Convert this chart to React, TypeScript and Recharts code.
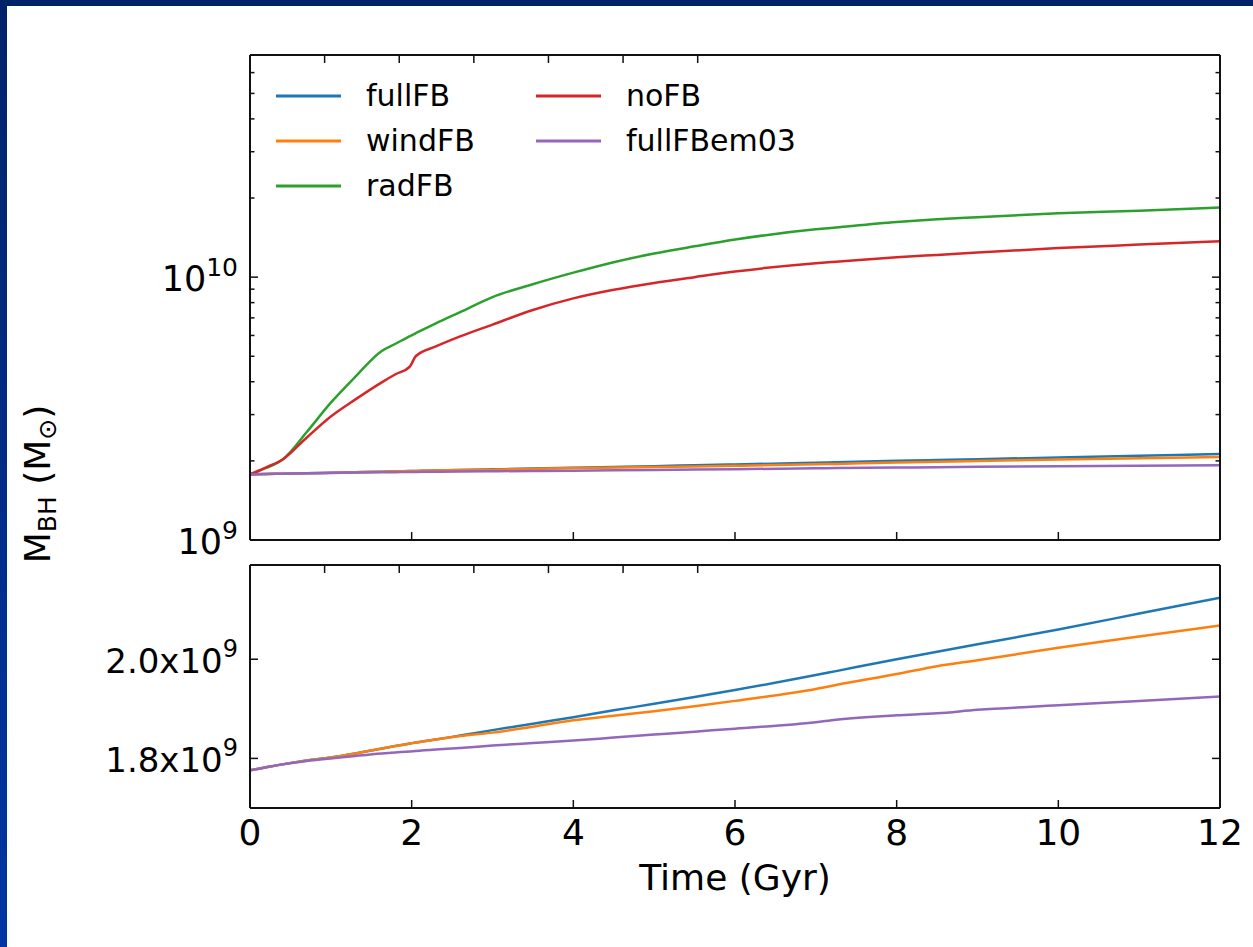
import React from "react";
import { LineChart, Line, XAxis, YAxis, Legend } from "recharts";

const FONT = "'DejaVu Sans', sans-serif";

// time in Gyr
const TIME = [0, 0.2, 0.4, 0.7, 1.0, 1.3, 1.63, 1.8, 1.98, 2.05, 2.3, 2.6, 3, 3.5, 4, 4.5, 5, 5.5, 6, 7, 7.25, 8, 8.5, 9, 10, 11, 12];

// black hole mass in solar masses
const FULL_FB = [1.776e9, 1.782e9, 1.788e9, 1.796e9, 1.802e9, 1.81e9, 1.82e9, 1.825e9, 1.83e9, 1.832e9, 1.838e9, 1.846e9, 1.857e9, 1.87e9, 1.883e9, 1.897e9, 1.91e9, 1.924e9, 1.938e9, 1.968e9, 1.976e9, 2.0e9, 2.015e9, 2.03e9, 2.06e9, 2.092e9, 2.124e9];
const WIND_FB = [1.776e9, 1.782e9, 1.788e9, 1.796e9, 1.802e9, 1.81e9, 1.82e9, 1.825e9, 1.83e9, 1.832e9, 1.838e9, 1.845e9, 1.852e9, 1.864e9, 1.877e9, 1.886e9, 1.895e9, 1.905e9, 1.916e9, 1.94e9, 1.948e9, 1.97e9, 1.986e9, 1.998e9, 2.023e9, 2.046e9, 2.068e9];
const RAD_FB = [1.776e9, 1.88e9, 2.02e9, 2.57e9, 3.33e9, 4.17e9, 5.24e9, 5.58e9, 5.97e9, 6.12e9, 6.67e9, 7.36e9, 8.4e9, 9.4e9, 1.04e10, 1.14e10, 1.23e10, 1.31e10, 1.39e10, 1.52e10, 1.545e10, 1.62e10, 1.66e10, 1.69e10, 1.75e10, 1.79e10, 1.84e10];
const NO_FB = [1.776e9, 1.89e9, 2.02e9, 2.45e9, 2.95e9, 3.42e9, 3.98e9, 4.27e9, 4.58e9, 5.0e9, 5.45e9, 5.95e9, 6.6e9, 7.5e9, 8.3e9, 8.95e9, 9.5e9, 1.0e10, 1.05e10, 1.13e10, 1.145e10, 1.19e10, 1.215e10, 1.24e10, 1.29e10, 1.33e10, 1.37e10];
const FULL_FB_EM03 = [1.776e9, 1.782e9, 1.788e9, 1.795e9, 1.8e9, 1.805e9, 1.81e9, 1.812e9, 1.814e9, 1.815e9, 1.818e9, 1.821e9, 1.826e9, 1.831e9, 1.836e9, 1.842e9, 1.848e9, 1.854e9, 1.86e9, 1.873e9, 1.878e9, 1.887e9, 1.891e9, 1.898e9, 1.907e9, 1.916e9, 1.925e9];

const X_TICKS = [0, 2, 4, 6, 8, 10, 12];
const LOG_TICKS = [1e9, 2e9, 3e9, 4e9, 5e9, 6e9, 7e9, 8e9, 9e9, 1e10, 2e10, 3e10, 4e10, 5e10, 6e10, 7e10];
const LIN_TICKS = [1.8e9, 2.0e9];
const LIN_LABELS = ["1.8", "2.0"];

const COLORS = {
  fullFB: "#1f77b4",
  windFB: "#ff7f0e",
  radFB: "#2ca02c",
  noFB: "#d62728",
  fullFBem03: "#9467bd",
};

const SERIES_TOP = ["fullFB", "windFB", "radFB", "noFB", "fullFBem03"] as const;
const SERIES_BOTTOM = ["fullFB", "windFB", "fullFBem03"] as const;

const data = TIME.map((t, i) => ({
  t,
  fullFB: FULL_FB[i],
  windFB: WIND_FB[i],
  radFB: RAD_FB[i],
  noFB: NO_FB[i],
  fullFBem03: FULL_FB_EM03[i],
}));

const AXIS_LINE = { stroke: "#111", strokeWidth: 2 };
const TICK_STROKE = "#111";

const isDecade = (v: number) => Math.abs(Math.log10(v) - Math.round(Math.log10(v))) < 1e-6;

// ticks point into the plot; labels only where asked
const BottomTick = ({ x, y, payload, labeled }: any) => (
  <g>
    <line x1={x} y1={y} x2={x} y2={y - 8} stroke={TICK_STROKE} strokeWidth={1.5} />
    {labeled && (
      <text x={x} y={y + 37} textAnchor="middle" fontFamily={FONT} fontSize={36} fill="#000">
        {payload.value}
      </text>
    )}
  </g>
);

const TopTick = ({ x, y }: any) => (
  <line x1={x} y1={y} x2={x} y2={y + 8} stroke={TICK_STROKE} strokeWidth={1.5} />
);

const LogLeftTick = ({ x, y, payload }: any) => {
  const major = isDecade(payload.value);
  const exp = Math.round(Math.log10(payload.value));
  return (
    <g>
      <line x1={x} y1={y} x2={x + (major ? 8 : 4.5)} y2={y} stroke={TICK_STROKE} strokeWidth={1.5} />
      {major && exp <= 10 && (
        <text x={x - 12} y={y + 14} textAnchor="end" fontFamily={FONT} fontSize={35} fill="#000">
          10
          <tspan dy={-15} fontSize={25}>{exp}</tspan>
        </text>
      )}
    </g>
  );
};

const LogRightTick = ({ x, y, payload }: any) => {
  const major = isDecade(payload.value);
  return <line x1={x} y1={y} x2={x - (major ? 8 : 4.5)} y2={y} stroke={TICK_STROKE} strokeWidth={1.5} />;
};

const LinLeftTick = ({ x, y, payload }: any) => {
  const idx = LIN_TICKS.indexOf(payload.value);
  return (
    <g>
      <line x1={x} y1={y} x2={x + 8} y2={y} stroke={TICK_STROKE} strokeWidth={1.5} />
      <text x={x - 12} y={y + 14} textAnchor="end" fontFamily={FONT} fontSize={34} fill="#000">
        {LIN_LABELS[idx]}x10
        <tspan dy={-16} fontSize={24}>9</tspan>
      </text>
    </g>
  );
};

const LinRightTick = ({ x, y }: any) => (
  <line x1={x} y1={y} x2={x - 8} y2={y} stroke={TICK_STROKE} strokeWidth={1.5} />
);

// two-column legend, filled column by column in plotting order
const renderLegend = (props: any) => {
  const items = [...(props.payload ?? [])].sort(
    (a: any, b: any) => SERIES_TOP.indexOf(a.value) - SERIES_TOP.indexOf(b.value)
  );
  return (
    <div
      style={{
        display: "grid",
        gridTemplateRows: "repeat(3, 45px)",
        gridAutoFlow: "column",
        gridAutoColumns: "260px",
        fontFamily: FONT,
        fontSize: 30,
      }}
    >
      {items.map((it: any) => (
        <div key={it.value} style={{ display: "flex", alignItems: "center" }}>
          <svg width={65} height={4} style={{ display: "block" }}>
            <line x1={0} y1={2} x2={65} y2={2} stroke={it.color} strokeWidth={3} />
          </svg>
          <span style={{ marginLeft: 25, color: "#000", lineHeight: 1 }}>{it.value}</span>
        </div>
      ))}
    </div>
  );
};

const xAxes = (labeled: boolean) => [
  <XAxis
    key="b"
    xAxisId="b"
    dataKey="t"
    type="number"
    domain={[0, 12]}
    ticks={X_TICKS}
    interval={0}
    height={1}
    tickSize={0}
    tickMargin={0}
    axisLine={AXIS_LINE}
    tickLine={false}
    tick={(p: any) => <BottomTick {...p} labeled={labeled} />}
    allowDataOverflow
  />,
  <XAxis
    key="t"
    xAxisId="t"
    orientation="top"
    type="number"
    domain={[0, 12]}
    ticks={X_TICKS}
    interval={0}
    height={1}
    tickSize={0}
    tickMargin={0}
    axisLine={AXIS_LINE}
    tickLine={false}
    tick={TopTick}
    allowDataOverflow
  />,
];

export default function App() {
  return (
    <div
      style={{
        position: "absolute",
        left: 0,
        top: 0,
        width: 1253,
        height: 947,
        background: "#fff",
        overflow: "hidden",
      }}
    >
      {/* slide frame */}
      <div style={{ position: "absolute", left: 0, top: 0, width: 1253, height: 6, background: "#00226a" }} />
      <div
        style={{
          position: "absolute",
          left: 0,
          top: 0,
          width: 7,
          height: 947,
          background: "linear-gradient(#00226a, #0036a3)",
        }}
      />

      {/* linear zoom panel */}
      <div style={{ position: "absolute", left: 0, top: 560 }}>
        <LineChart width={1253} height={387} data={data} margin={{ top: 4, right: 32, bottom: 138, left: 0 }}>
          {xAxes(true)}
          <YAxis
            yAxisId="l"
            type="number"
            domain={[1.7e9, 2.19e9]}
            ticks={LIN_TICKS}
            interval={0}
            width={250}
            tickSize={0}
            tickMargin={0}
            axisLine={AXIS_LINE}
            tickLine={false}
            tick={LinLeftTick}
            allowDataOverflow
          />
          <YAxis
            yAxisId="r"
            orientation="right"
            type="number"
            domain={[1.7e9, 2.19e9]}
            ticks={LIN_TICKS}
            interval={0}
            width={1}
            tickSize={0}
            tickMargin={0}
            axisLine={AXIS_LINE}
            tickLine={false}
            tick={LinRightTick}
            allowDataOverflow
          />
          {SERIES_BOTTOM.map((k) => (
            <Line
              key={k}
              xAxisId="b"
              yAxisId="l"
              dataKey={k}
              name={k}
              type="monotone"
              stroke={COLORS[k]}
              strokeWidth={2.5}
              dot={false}
              isAnimationActive={false}
            />
          ))}
        </LineChart>
      </div>

      {/* log panel; its svg runs a little past the frame so the 10^9 label has room */}
      <div style={{ position: "absolute", left: 0, top: 0, pointerEvents: "none" }}>
        <LineChart width={1253} height={580} data={data} margin={{ top: 54, right: 32, bottom: 39, left: 0 }}>
          {xAxes(false)}
          <YAxis
            yAxisId="l"
            type="number"
            scale="log"
            domain={[1e9, 7e10]}
            ticks={LOG_TICKS}
            interval={0}
            width={250}
            tickSize={0}
            tickMargin={0}
            axisLine={AXIS_LINE}
            tickLine={false}
            tick={LogLeftTick}
            allowDataOverflow
          />
          <YAxis
            yAxisId="r"
            orientation="right"
            type="number"
            scale="log"
            domain={[1e9, 7e10]}
            ticks={LOG_TICKS}
            interval={0}
            width={1}
            tickSize={0}
            tickMargin={0}
            axisLine={AXIS_LINE}
            tickLine={false}
            tick={LogRightTick}
            allowDataOverflow
          />
          <Legend
            layout="horizontal"
            verticalAlign="middle"
            align="center"
            content={renderLegend}
            wrapperStyle={{ top: 73, left: 276, width: 560 }}
          />
          {SERIES_TOP.map((k) => (
            <Line
              key={k}
              xAxisId="b"
              yAxisId="l"
              dataKey={k}
              name={k}
              type="monotone"
              stroke={COLORS[k]}
              strokeWidth={2.5}
              dot={false}
              isAnimationActive={false}
            />
          ))}
        </LineChart>
      </div>

      {/* shared axis titles */}
      <svg width={1253} height={947} style={{ position: "absolute", left: 0, top: 0, pointerEvents: "none" }}>
        <text x={735} y={890} textAnchor="middle" fontFamily={FONT} fontSize={36} fill="#000">
          Time (Gyr)
        </text>
        <g transform="translate(50, 484) rotate(-90)">
          <text x={0} y={0} textAnchor="middle" fontFamily={FONT} fontSize={36} fill="#000">
            M
            <tspan fontSize={25} dy={6}>BH</tspan>
            <tspan fontSize={36} dy={-6}> (M</tspan>
            <tspan fontSize={25} dy={6}>⊙</tspan>
            <tspan fontSize={36} dy={-6}>)</tspan>
          </text>
        </g>
      </svg>
    </div>
  );
}
